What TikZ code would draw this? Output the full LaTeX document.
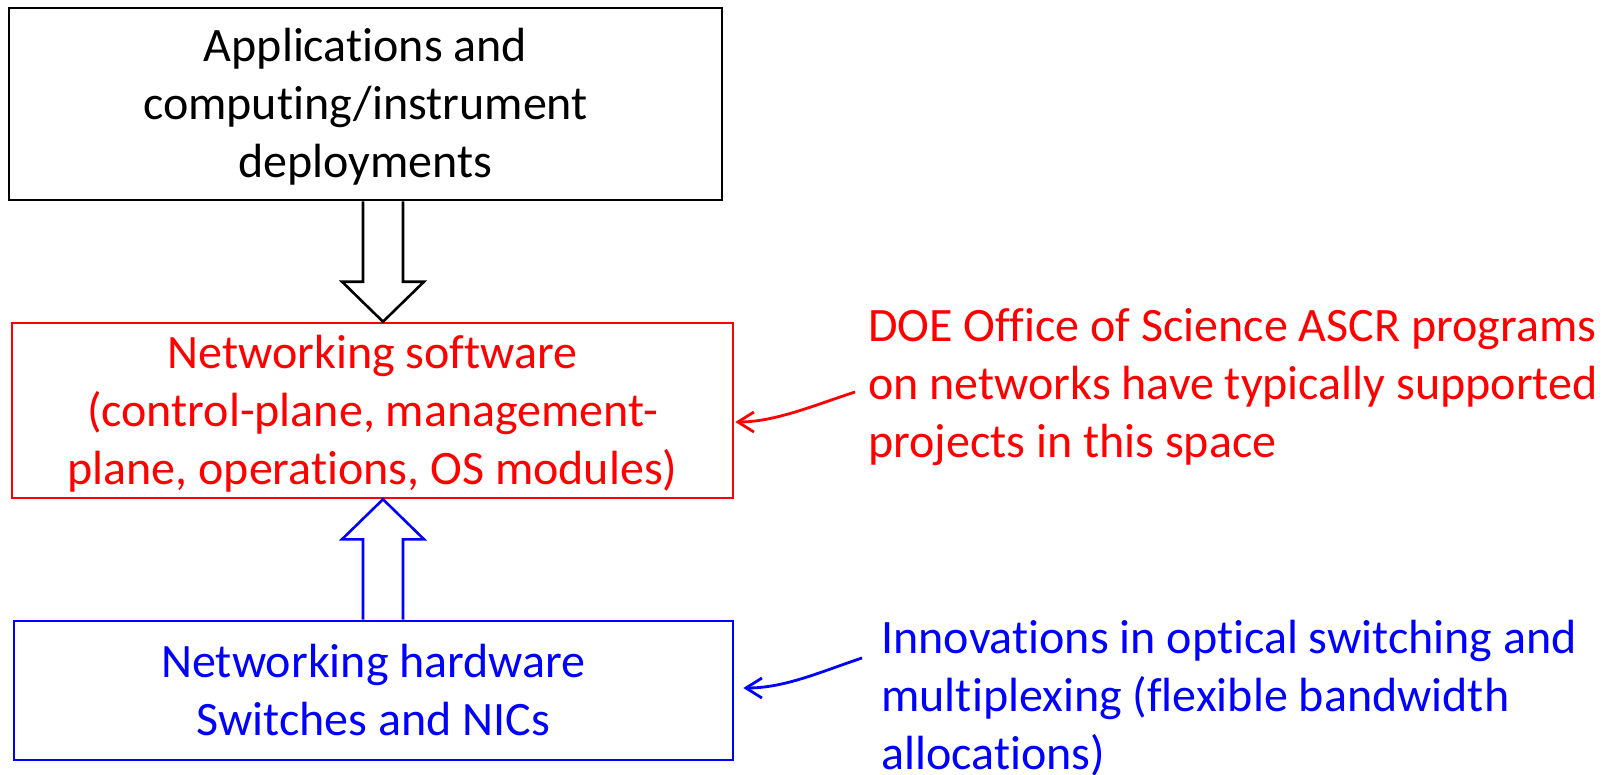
\documentclass[tikz,border=0pt]{standalone}
\usepackage{fontspec}
\setmainfont{Carlito}[Ligatures={NoCommon,NoRequired,NoContextual}]
\usetikzlibrary{arrows.meta,calc}
\definecolor{swred}{HTML}{FF0000}
\definecolor{hwblue}{HTML}{0000FF}
\newcommand{\tstrut}{\rule[-6.75pt]{0pt}{29pt}}

\begin{document}
\begin{tikzpicture}[
  x=0.5pt, y=-0.5pt,
  font=\fontsize{24}{29}\selectfont,
  layer/.style={draw, line width=1.3pt, align=center, inner sep=0pt},
  note/.style={align=left, anchor=north west, inner sep=0pt},
  blockarr/.style={line width=1.3pt, fill=white, line join=miter},
  pointer/.style={line width=1.4pt, -{Straight Barb[length=8pt,width=10pt]}}
]
\useasboundingbox (0,0) rectangle (1610,775);

% the three layers
\node[layer, minimum width=356.5pt, minimum height=96pt] (app) at (365.5,104)
  {\tstrut Applications and\\ computing/instrument\\ deployments\tstrut};
\node[layer, draw=swred, text=swred, minimum width=360.5pt, minimum height=87.5pt] (soft) at (372.5,410.5)
  {\tstrut Networking software\\ (control-plane, management-\\ plane, operations, OS modules)\tstrut};
\node[layer, draw=hwblue, text=hwblue, minimum width=359.5pt, minimum height=69.5pt] (hw) at (373.5,690.5)
  {\tstrut Networking hardware\\ Switches and NICs\tstrut};

% side notes
\node[note, text=swred] (doe) at (868,296.5)
  {\tstrut DOE Office of Science ASCR programs\\ on networks have typically supported\\ projects in this space\tstrut};
\node[note, text=hwblue] (innov) at (881,608.5)
  {\tstrut Innovations in optical switching and\\ multiplexing (flexible bandwidth\\ allocations)\tstrut};

% block arrows between layers
\coordinate (axis) at (383,0);
\draw[blockarr] ($(app.south -| axis)+(-20,0)$) -- ($(soft.north -| axis)+(-20,-40)$) -- ++(-21,0)
  -- (soft.north -| axis) -- ++(41,-40) -- ++(-21,0) -- ($(app.south -| axis)+(20,0)$);
\draw[blockarr, draw=hwblue] ($(hw.north -| axis)+(-20,0)$) -- ($(soft.south -| axis)+(-20,40)$) -- ++(-21,0)
  -- (soft.south -| axis) -- ++(41,40) -- ++(-21,0) -- ($(hw.north -| axis)+(20,0)$);

% pointers from the notes
\coordinate (doeTail) at (855,392);
\coordinate (innovTail) at (862,658);
\draw[pointer, swred] (doeTail) .. controls (815,405) and (775,422) .. ($(soft.east)+(1,11.5)$);
\draw[pointer, hwblue] (innovTail) .. controls (820,672) and (785,688) .. ($(hw.east)+(9,-2.5)$);
\end{tikzpicture}
\end{document}
